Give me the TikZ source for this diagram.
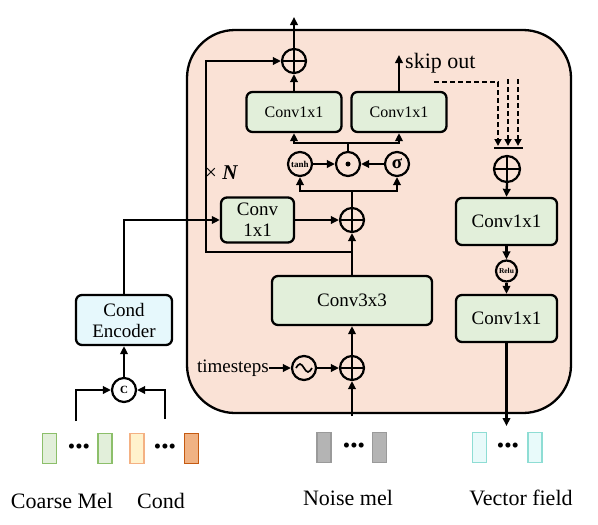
\documentclass[tikz,border=0pt]{standalone}
\usepackage{amsmath}
\usepackage{fontspec}
\setmainfont{Liberation Serif}
\usepackage{tikz}
\usetikzlibrary{arrows.meta,calc}
\definecolor{wnpeach}{HTML}{FAE2D6}
\definecolor{wngreen}{HTML}{E2EFDA}
\definecolor{wncyan}{HTML}{E6F8FC}
\definecolor{cmborder}{HTML}{8CBF6A}
\definecolor{cdfillA}{HTML}{FFF2CC}
\definecolor{cdborderA}{HTML}{F4B183}
\definecolor{cdfillB}{HTML}{F0B283}
\definecolor{cdborderB}{HTML}{C55A11}
\definecolor{nmfill}{HTML}{B4B4B4}
\definecolor{nmborder}{HTML}{9A9A9A}
\definecolor{vffill}{HTML}{E8FAFA}
\definecolor{vfborder}{HTML}{8EDDD4}
\tikzset{
  wnbody/.style={draw=black, fill=wnpeach, line width=2.3pt, rounded corners=48pt},
  wnblock/.style={
    rectangle, rounded corners=6pt, draw=black, fill=wngreen, line width=2.3pt,
    align=center, inner sep=1pt, font=\fontsize{19}{21}\selectfont
  },
  wnop/.style={circle, draw=black, line width=2.2pt, minimum size=24pt, inner sep=0pt},
  wnplus/.style={wnop,
    path picture={\draw[line width=1.9pt] (path picture bounding box.north) -- (path picture bounding box.south)
      (path picture bounding box.west) -- (path picture bounding box.east);}},
  wnprod/.style={wnop, path picture={\fill (path picture bounding box.center) circle (2.5pt);}},
  wnsine/.style={wnop,
    path picture={\draw[line width=1.7pt] ([xshift=-8pt]path picture bounding box.center)
      sin ++(4pt,4pt) cos ++(4pt,-4pt) sin ++(4pt,-4pt) cos ++(4pt,4pt);}},
  wnedge/.style={-{Triangle[length=8pt,width=7.5pt]}, line width=2.3pt},
  wnline/.style={line width=2.3pt},
  wndash/.style={-{Triangle[length=7pt,width=7pt]}, line width=2pt, dash pattern=on 5pt off 3pt},
  wntoken/.style={rectangle, minimum width=14pt, minimum height=30pt, line width=1.6pt, inner sep=0pt},
  wndots/.style={font=\fontsize{21}{21}\selectfont, inner sep=0pt},
  wnlabel/.style={font=\fontsize{22}{22}\selectfont, inner sep=0pt}
}
\begin{document}
\begin{tikzpicture}[x=1pt,y=-1pt]
  \useasboundingbox (0,0) rectangle (598,525);
  \draw[wnbody] (187,30) rectangle (571,413);

  \node[wnplus] (addout) at (294,61) {};
  \node[wnblock, minimum width=95pt, minimum height=40pt, font=\fontsize{16}{18}\selectfont] (convA) at (294,112) {Conv1x1};
  \node[wnblock, minimum width=95pt, minimum height=40pt, font=\fontsize{16}{18}\selectfont] (convB) at (399,112) {Conv1x1};
  \node[wnop, font=\fontsize{9}{9}\selectfont\bfseries] (tanh) at (300,164) {tanh};
  \node[wnprod] (prod) at (348,164) {};
  \node[wnop, font=\fontsize{19}{19}\selectfont\bfseries] (sig) at (397,164) {σ};
  \node[wnplus] (addmid) at (352,220) {};
  \node[wnblock, minimum width=73pt, minimum height=45pt] (convS) at (257.5,220) {Conv\\1x1};
  \node[wnblock, minimum width=160pt, minimum height=49pt] (conv33) at (352,300.5) {Conv3x3};
  \node[wnplus] (addin) at (352,368) {};
  \node[wnsine] (sine) at (304,368) {};
  \node[wnlabel, font=\fontsize{19}{19}\selectfont, anchor=east] (ts) at (269,368) {timesteps};
  \node[anchor=west, inner sep=0pt, font=\fontsize{21}{21}\selectfont] (times) at (205,173) {× \textbf{\textit{N}}};
  \node[wnlabel, anchor=west] (skiplbl) at (405,63) {skip out};

  \node[wnplus, minimum size=26pt] (addskip) at (507,169) {};
  \node[wnblock, minimum width=101pt, minimum height=47pt] (convR1) at (506.5,221.5) {Conv1x1};
  \node[wnop, minimum size=21pt, font=\fontsize{7.5}{7.5}\selectfont\bfseries] (relu) at (506.5,271) {Relu};
  \node[wnblock, minimum width=101pt, minimum height=47pt] (convR2) at (506.5,318.5) {Conv1x1};

  \node[wnblock, fill=wncyan, minimum width=96pt, minimum height=50pt] (enc) at (124,320) {Cond\\Encoder};
  \node[wnop, font=\fontsize{11}{11}\selectfont\bfseries] (cat) at (124,390) {C};

  \coordinate (out) at (294,17);
  \coordinate (skipout) at (399,55);
  \coordinate (resjoin) at (352,252);
  \coordinate (loopbot) at (206,252);
  \coordinate (looptop) at (206,61);
  \coordinate (gsplit) at (352,191);
  \coordinate (osplit) at (348,143);
  \coordinate (skA) at (434,82);
  \coordinate (tipA) at (498,146);
  \coordinate (topB) at (508,79);
  \coordinate (tipB) at (508,146);
  \coordinate (topC) at (518,79);
  \coordinate (tipC) at (518,146);
  \coordinate (barL) at (494,148);
  \coordinate (barR) at (523,148);
  \coordinate (nmIn) at (352,416);
  \coordinate (vfOut) at (506.5,426);
  \coordinate (cmIn) at (76,421);
  \coordinate (cdIn) at (165,419);

  \draw[wnedge] (addout.north) -- (out);
  \draw[wnedge] (convA.north) -- (addout.south);
  \draw[wnedge] (convB.north) -- (skipout);
  \draw[wnedge] (resjoin) -- (loopbot) -- (looptop) -- (addout.west);
  \draw[wnline] (prod.north) -- (osplit);
  \draw[wnedge] (osplit) -| (convA.south);
  \draw[wnedge] (osplit) -| (convB.south);
  \draw[wnedge] (tanh.east) -- (prod.west);
  \draw[wnedge] (sig.west) -- (prod.east);
  \draw[wnline] (addmid.north) -- (gsplit);
  \draw[wnedge] (gsplit) -| (tanh.south);
  \draw[wnedge] (gsplit) -| (sig.south);
  \draw[wnedge] (convS.east) -- (addmid.west);
  \draw[wnedge] (conv33.north) -- (addmid.south);
  \draw[wnedge] (addin.north) -- (conv33.south);
  \draw[wnedge] (nmIn) -- (addin.south);
  \draw[wnedge] (sine.east) -- (addin.west);
  \draw[wnedge] (ts.east) -- (sine.west);

  \draw[wndash] (skA) -| (tipA);
  \draw[wndash] (topB) -- (tipB);
  \draw[wndash] (topC) -- (tipC);
  \draw[wnline] (barL) -- (barR);
  \draw[wnedge] (addskip.south) -- (convR1.north);
  \draw[wnedge] (convR1.south) -- (relu.north);
  \draw[wnedge] (relu.south) -- (convR2.north);
  \draw[wnedge] (convR2.south) -- (vfOut);

  \draw[wnedge] (enc.north) |- (convS.west);
  \draw[wnedge] (cat.north) -- (enc.south);
  \draw[wnedge] (cmIn) |- (cat.west);
  \draw[wnedge] (cdIn) |- (cat.east);

  \node[wntoken, draw=cmborder, fill=wngreen] (cm1) at (49.5,448.5) {};
  \node[wndots] (cmdots) at (79,449) {•••};
  \node[wntoken, draw=cmborder, fill=wngreen] (cm2) at (105,448.5) {};
  \node[wntoken, draw=cdborderA, fill=cdfillA] (cd1) at (137,448.5) {};
  \node[wndots] (cddots) at (165,449) {•••};
  \node[wntoken, draw=cdborderB, fill=cdfillB] (cd2) at (191.5,448.5) {};
  \node[wntoken, draw=nmborder, fill=nmfill] (nm1) at (324,447.5) {};
  \node[wndots] (nmdots) at (354,448) {•••};
  \node[wntoken, draw=nmborder, fill=nmfill] (nm2) at (379.5,447.5) {};
  \node[wntoken, draw=vfborder, fill=vffill] (vf1) at (479.5,447.5) {};
  \node[wndots] (vfdots) at (508,448) {•••};
  \node[wntoken, draw=vfborder, fill=vffill] (vf2) at (535,447.5) {};

  \node[wnlabel] (cmlbl) at (62,501) {Coarse Mel};
  \node[wnlabel] (cdlbl) at (161,501) {Cond};
  \node[wnlabel] (nmlbl) at (348,498) {Noise mel};
  \node[wnlabel] (vflbl) at (521,498) {Vector field};
\end{tikzpicture}
\end{document}
